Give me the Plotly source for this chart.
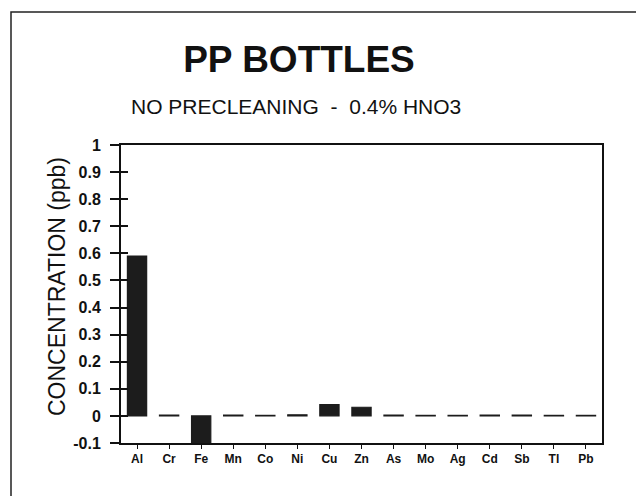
import plotly.graph_objects as go

elements = ["Al", "Cr", "Fe", "Mn", "Co", "Ni", "Cu", "Zn", "As", "Mo", "Ag", "Cd", "Sb", "Tl", "Pb"]
concentration = [0.59, 0.003, -0.1, 0.003, 0.002, 0.004, 0.042, 0.032, 0.003, 0.002, 0.002, 0.003, 0.003, 0.002, 0.002]
y_ticks = [-0.1, 0, 0.1, 0.2, 0.3, 0.4, 0.5, 0.6, 0.7, 0.8, 0.9, 1]
y_tick_text = ["-0.1", "0", "0.1", "0.2", "0.3", "0.4", "0.5", "0.6", "0.7", "0.8", "0.9", "1"]

W, H = 636, 496
L, R, T, B = 121, 34, 145, 53
pw, ph = W - L - R, H - T - B

def px_x(px):
    return (px - L) / pw

def px_y(py):
    return (H - B - py) / ph

fig = go.Figure()
fig.add_trace(go.Bar(
    x=elements, y=concentration, width=0.6,
    marker=dict(color="#1c1c1c", line=dict(color="#1c1c1c", width=1.2)),
    hoverinfo="x+y",
))

font_fam = "Liberation Sans, Arial, sans-serif"

fig.update_layout(
    width=W, height=H,
    margin=dict(l=L, r=R, t=T, b=B),
    paper_bgcolor="white", plot_bgcolor="white",
    showlegend=False,
    font=dict(family=font_fam, color="#111"),
    title=dict(text="<b>PP BOTTLES</b>", x=299 / W, xref="container",
               xanchor="center", y=1 - 59 / H, yanchor="middle",
               font=dict(size=37, family=font_fam, color="#111")),
    xaxis=dict(
        range=[-0.5, 14.5], showline=True, linecolor="#111", linewidth=2, mirror=True,
        ticks="outside", ticklen=4, tickcolor="#111", tickwidth=1,
        tickfont=dict(size=12, family=font_fam, color="#111"),
        showgrid=False, zeroline=False,
        tickvals=elements, ticktext=["<b>%s</b>" % e for e in elements],
    ),
    yaxis=dict(
        range=[-0.1, 1], showline=True, linecolor="#111", linewidth=2, mirror=True,
        ticks="outside", ticklen=9, tickcolor="#111", tickwidth=1.5,
        tickvals=y_ticks, ticktext=["<b>%s</b>" % t for t in y_tick_text],
        tickfont=dict(size=16, family=font_fam, color="#111"),
        ticklabelstandoff=6,
        showgrid=False, zeroline=False,
    ),
    yaxis2=dict(
        range=[-0.1, 1], overlaying="y", side="left", anchor="x",
        ticks="inside", ticklen=7, tickcolor="#111", tickwidth=1.5,
        tickvals=y_ticks, showticklabels=False, showline=False,
        showgrid=False, zeroline=False,
    ),
)

fig.add_trace(go.Scatter(x=[elements[0]], y=[None], yaxis="y2", showlegend=False, hoverinfo="skip"))

fig.add_annotation(
    text="NO PRECLEANING\u00a0\u00a0-\u00a0\u00a00.4% HNO3",
    xref="paper", yref="paper", x=px_x(296), y=px_y(106),
    xanchor="center", yanchor="middle", showarrow=False,
    font=dict(size=21, family=font_fam, color="#111"),
)
fig.add_annotation(
    text="CONCENTRATION (ppb)", textangle=-90,
    xref="paper", yref="paper", x=px_x(57), y=px_y(287),
    xanchor="center", yanchor="middle", showarrow=False,
    font=dict(size=23, family=font_fam, color="#111"),
)

# outer frame border
xl, xr = px_x(11), px_x(640)
yt, yb = px_y(12), px_y(500)
fig.add_shape(type="path", xref="paper", yref="paper",
              path=f"M {xl} {yb} L {xl} {yt} L {xr} {yt}",
              line=dict(color="#222", width=1.5))

fig.write_html("out.html", config={"displayModeBar": False},
               post_script="document.body.style.margin='0';document.body.style.padding='0';")
